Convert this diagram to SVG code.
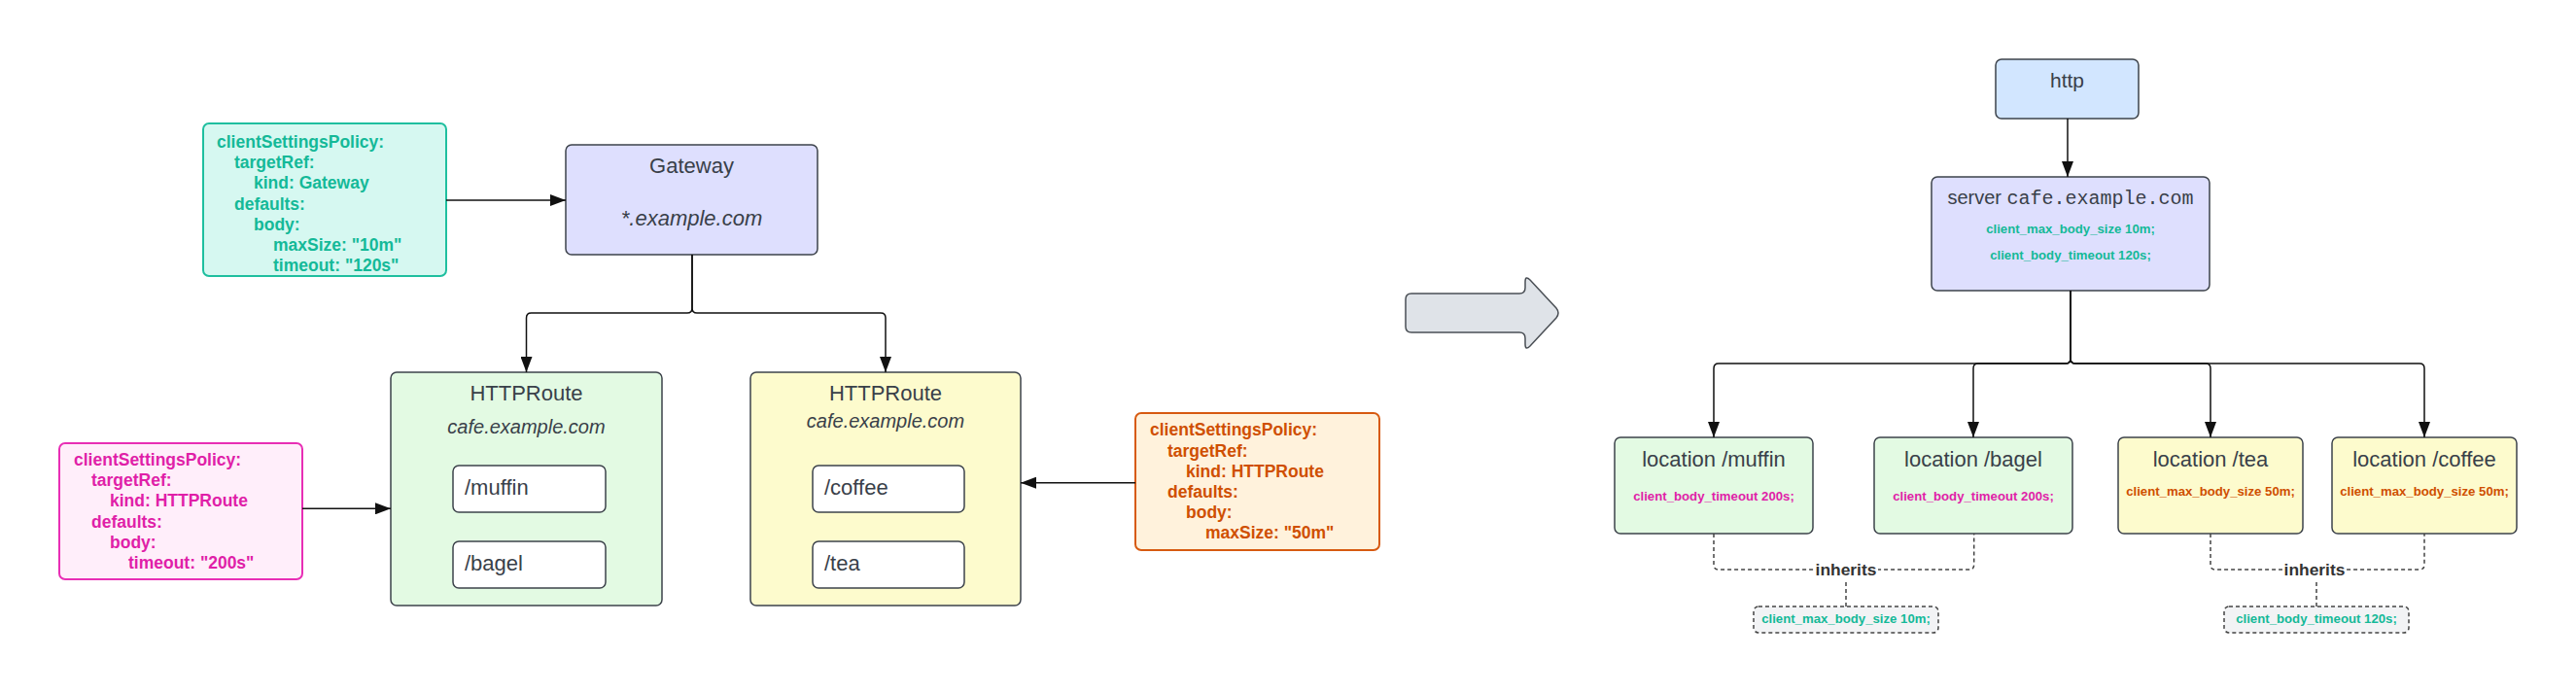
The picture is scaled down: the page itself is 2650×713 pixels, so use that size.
<svg xmlns="http://www.w3.org/2000/svg" width="2650" height="713" viewBox="0 0 2650 713">
<style>
.box{stroke:#3d434b;stroke-width:1.5}
.title{font-family:"Liberation Sans",Arial,sans-serif;font-size:22px;fill:#394049}
.it{font-style:italic}
.pol{font-family:"Liberation Sans",Arial,sans-serif;font-size:17.5px;font-weight:bold}
.small{font-family:"Liberation Sans",Arial,sans-serif;font-size:13.2px;font-weight:bold;text-anchor:middle}
.teal{fill:#14b998}
.pink{fill:#e01fa8}
.orange{fill:#cf4f00}
.mid{text-anchor:middle}
.conn{fill:none;stroke:#111;stroke-width:1.5}
.dash{fill:none;stroke:#444;stroke-width:1.5;stroke-dasharray:4 3}
.green{fill:#e3fae3}
.yellow{fill:#fdfbcd}
.lav{fill:#dedffe}
.inh{font-family:"Liberation Sans",Arial,sans-serif;font-size:17.4px;font-weight:bold;fill:#333;text-anchor:middle}
</style>
<defs>
<marker id="arr" markerUnits="userSpaceOnUse" markerWidth="16" markerHeight="12" viewBox="0 0 16 12" refX="16" refY="6" orient="auto">
<path d="M0,0 L16,6 L0,12 Z" fill="#111"/>
</marker>
</defs>
<rect width="2650" height="713" fill="#ffffff"/>

<g id="policy-gateway">
<rect x="209" y="127" width="250" height="157" rx="6" fill="#d6f8f1" stroke="#1fbf9f" stroke-width="2"/>
<text class="pol teal" x="223" y="152">clientSettingsPolicy:</text>
<text class="pol teal" x="241" y="173.2">targetRef:</text>
<text class="pol teal" x="261" y="194.4">kind: Gateway</text>
<text class="pol teal" x="241" y="215.6">defaults:</text>
<text class="pol teal" x="261" y="236.8">body:</text>
<text class="pol teal" x="281" y="258">maxSize: "10m"</text>
<text class="pol teal" x="281" y="279.2">timeout: "120s"</text>
</g>

<g id="gateway">
<rect class="box lav" x="582" y="149" width="259" height="113" rx="6"/>
<text class="title mid" x="711.5" y="178">Gateway</text>
<text class="title mid it" x="711.5" y="231.7">*.example.com</text>
</g>

<g id="policy-route-green">
<rect x="61" y="456" width="250" height="140" rx="6" fill="#ffeefa" stroke="#e82eb5" stroke-width="2"/>
<text class="pol pink" x="76" y="479">clientSettingsPolicy:</text>
<text class="pol pink" x="94" y="500.2">targetRef:</text>
<text class="pol pink" x="113" y="521.4">kind: HTTPRoute</text>
<text class="pol pink" x="94" y="542.6">defaults:</text>
<text class="pol pink" x="113" y="563.8">body:</text>
<text class="pol pink" x="132" y="585">timeout: "200s"</text>
</g>

<g id="httproute-green">
<rect class="box green" x="402" y="383" width="279" height="240" rx="6"/>
<text class="title mid" x="541.5" y="411.7">HTTPRoute</text>
<text class="title mid it" x="541.5" y="446" style="font-size:20px">cafe.example.com</text>
<rect class="box" x="466" y="479" width="157" height="48" rx="6" fill="#ffffff"/>
<text class="title" x="478" y="508.5">/muffin</text>
<rect class="box" x="466" y="557" width="157" height="48" rx="6" fill="#ffffff"/>
<text class="title" x="478" y="586.5">/bagel</text>
</g>

<g id="httproute-yellow">
<rect class="box yellow" x="772" y="383" width="278" height="240" rx="6"/>
<text class="title mid" x="911" y="411.7">HTTPRoute</text>
<text class="title mid it" x="911" y="440" style="font-size:20px">cafe.example.com</text>
<rect class="box" x="836" y="479" width="156" height="48" rx="6" fill="#ffffff"/>
<text class="title" x="848" y="508.5">/coffee</text>
<rect class="box" x="836" y="557" width="156" height="48" rx="6" fill="#ffffff"/>
<text class="title" x="848" y="586.5">/tea</text>
</g>

<g id="policy-route-orange">
<rect x="1168" y="425" width="251" height="141" rx="6" fill="#fff2dc" stroke="#d75a10" stroke-width="2"/>
<text class="pol orange" x="1183" y="448.3">clientSettingsPolicy:</text>
<text class="pol orange" x="1201" y="469.5">targetRef:</text>
<text class="pol orange" x="1220" y="490.7">kind: HTTPRoute</text>
<text class="pol orange" x="1201" y="511.9">defaults:</text>
<text class="pol orange" x="1220" y="533.1">body:</text>
<text class="pol orange" x="1240" y="554.3">maxSize: "50m"</text>
</g>

<g id="transform-arrow">
<path d="M1452,302 H1563 Q1569,302 1569,296 V290 Q1569,283 1574,288 L1601,317 Q1605,322 1601,327 L1574,356 Q1569,361 1569,354 V348 Q1569,342 1563,342 H1452 Q1446,342 1446,336 V308 Q1446,302 1452,302 Z" fill="#dfe3e8" stroke="#4a4f55" stroke-width="1.5"/>
</g>

<g id="http">
<rect class="box" x="2053" y="61" width="147" height="61" rx="6" fill="#d2e6ff"/>
<text class="title mid" x="2126.5" y="90" style="font-size:21px">http</text>
</g>

<g id="server">
<rect class="box lav" x="1987" y="182" width="286" height="117" rx="6"/>
<text class="title mid" x="2130" y="210" style="font-size:20px">server <tspan style="font-family:'Liberation Mono','Courier New',monospace">cafe.example.com</tspan></text>
<text class="small teal" x="2130" y="240">client_max_body_size 10m;</text>
<text class="small teal" x="2130" y="267.3">client_body_timeout 120s;</text>
</g>

<g id="loc-muffin">
<rect class="box green" x="1661" y="450" width="204" height="99" rx="6"/>
<text class="title mid" x="1763" y="480">location /muffin</text>
<text class="small pink" x="1763" y="515">client_body_timeout 200s;</text>
</g>
<g id="loc-bagel">
<rect class="box green" x="1928" y="450" width="204" height="99" rx="6"/>
<text class="title mid" x="2030" y="480">location /bagel</text>
<text class="small pink" x="2030" y="515">client_body_timeout 200s;</text>
</g>
<g id="loc-tea">
<rect class="box yellow" x="2179" y="450" width="190" height="99" rx="6"/>
<text class="title mid" x="2274" y="480">location /tea</text>
<text class="small orange" x="2274" y="510">client_max_body_size 50m;</text>
</g>
<g id="loc-coffee">
<rect class="box yellow" x="2399" y="450" width="190" height="99" rx="6"/>
<text class="title mid" x="2494" y="480">location /coffee</text>
<text class="small orange" x="2494" y="510">client_max_body_size 50m;</text>
</g>

<g id="inherit-left">
<rect x="1804" y="624" width="190" height="27" rx="5" fill="#f2f3f5" stroke="#444" stroke-width="1.5" stroke-dasharray="4 3"/>
<text class="small teal" x="1899" y="640.5">client_max_body_size 10m;</text>
</g>
<g id="inherit-right">
<rect x="2288" y="624" width="190" height="27" rx="5" fill="#f2f3f5" stroke="#444" stroke-width="1.5" stroke-dasharray="4 3"/>
<text class="small teal" x="2383" y="640.5">client_body_timeout 120s;</text>
</g>

<g id="connectors">
<path class="conn" d="M459,206 H582" marker-end="url(#arr)"/>
<path class="conn" d="M712,262 V317 Q712,322 707,322 H546.5 Q541.5,322 541.5,327 V383" marker-end="url(#arr)"/>
<path class="conn" d="M712,262 V317 Q712,322 717,322 H906 Q911,322 911,327 V383" marker-end="url(#arr)"/>
<path class="conn" d="M311,523.3 H402" marker-end="url(#arr)"/>
<path class="conn" d="M1168,496.7 H1050" marker-end="url(#arr)"/>
<path class="conn" d="M2127,122 V182" marker-end="url(#arr)"/>
<path class="conn" d="M2130,299 V369 Q2130,374 2125,374 H1768 Q1763,374 1763,379 V450" marker-end="url(#arr)"/>
<path class="conn" d="M2130,299 V369 Q2130,374 2125,374 H2035 Q2030,374 2030,379 V450" marker-end="url(#arr)"/>
<path class="conn" d="M2130,299 V369 Q2130,374 2135,374 H2269 Q2274,374 2274,379 V450" marker-end="url(#arr)"/>
<path class="conn" d="M2130,299 V369 Q2130,374 2135,374 H2489 Q2494,374 2494,379 V450" marker-end="url(#arr)"/>
<path class="dash" d="M1763,549 V581 Q1763,586 1768,586 H2025.7 Q2030.7,586 2030.7,581 V549"/>
<path class="dash" d="M1899,599 V624"/>
<path class="dash" d="M2274,549 V581 Q2274,586 2279,586 H2489 Q2494,586 2494,581 V549"/>
<path class="dash" d="M2383,599 V624"/>
<rect x="1866" y="577" width="66" height="19" fill="#ffffff"/>
<text class="inh" x="1899" y="592">inherits</text>
<rect x="2348" y="577" width="66" height="19" fill="#ffffff"/>
<text class="inh" x="2381" y="592">inherits</text>
</g>
</svg>
